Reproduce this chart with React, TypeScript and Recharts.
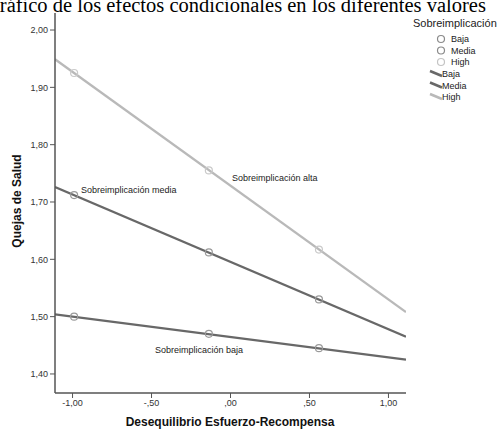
import { ComposedChart, Line, Scatter, XAxis, YAxis } from "recharts";

const groups = ["Baja", "Media", "High"];
const xPoints = [-0.99, -0.137, 0.56];
const bajaPoints = [1.5, 1.47, 1.445];
const mediaPoints = [1.712, 1.612, 1.53];
const highPoints = [1.925, 1.755, 1.617];
const fitRange = [-1.111, 1.111];
const bajaFit = [1.504, 1.425];
const mediaFit = [1.726, 1.465];
const highFit = [1.949, 1.508];
const xTicks = [-1, -0.5, 0, 0.5, 1];
const yTicks = [1.4, 1.5, 1.6, 1.7, 1.8, 1.9, 2.0];

const DARK = "#686868";
const LIGHT = "#b9b9b9";
const lineColors = [DARK, DARK, LIGHT];
const markerColors = ["#9a9a9a", "#9a9a9a", "#cacaca"];

const toXY = (xs: number[], ys: number[]) => xs.map((x, i) => ({ x, y: ys[i] }));

const pointSets = [bajaPoints, mediaPoints, highPoints].map((ys) => toXY(xPoints, ys));
const fitSets = [bajaFit, mediaFit, highFit].map((ys) => toXY(fitRange, ys));

const fmtX = (v: number) => {
  const s = Math.abs(v).toFixed(2).replace(".", ",").replace(/^0/, "");
  return v < 0 ? "-" + s : s;
};
const fmtY = (v: number) => v.toFixed(2).replace(".", ",");

const SANS = "Liberation Sans, Arial, sans-serif";
const tickStyle = { fontSize: 9, fill: "#333", fontFamily: SANS };

export default function App() {
  return (
    <div style={{ position: "fixed", left: 0, top: 0, width: 500, height: 431, overflow: "hidden", background: "#fff" }}>
      <ComposedChart
        width={500}
        height={431}
        margin={{ top: 13, right: 94, left: 0, bottom: 0 }}
      >
        <XAxis
          type="number"
          dataKey="x"
          domain={[-1.111, 1.111]}
          ticks={xTicks}
          tickFormatter={fmtX}
          allowDataOverflow
          height={38}
          tickSize={5}
          tick={tickStyle}
          axisLine={{ stroke: "#555", strokeWidth: 1.5 }}
          tickLine={{ stroke: "#555" }}
        />
        <YAxis
          type="number"
          dataKey="y"
          domain={[1.3668, 2.0297]}
          ticks={yTicks}
          tickFormatter={fmtY}
          allowDataOverflow
          width={55}
          tickSize={5}
          tick={tickStyle}
          axisLine={{ stroke: "#555", strokeWidth: 1.5 }}
          tickLine={{ stroke: "#555" }}
        />
        <YAxis
          yAxisId="frame"
          orientation="right"
          type="number"
          domain={[1.3668, 2.0297]}
          width={0}
          tick={false}
          tickLine={false}
          axisLine={{ stroke: "#555", strokeWidth: 1.5 }}
        />
        {fitSets.map((d, i) => (
          <Line
            key={"fit" + i}
            data={d}
            dataKey="y"
            type="linear"
            stroke={lineColors[i]}
            strokeWidth={2.3}
            dot={false}
            activeDot={false}
            isAnimationActive={false}
          />
        ))}
        {pointSets.map((d, i) => (
          <Scatter
            key={"pts" + i}
            data={d}
            dataKey="y"
            isAnimationActive={false}
            shape={(p: any) => (
              <circle cx={p.cx} cy={p.cy} r={3.5} fill="none" stroke={markerColors[i]} strokeWidth={1.2} />
            )}
          />
        ))}
      </ComposedChart>
      <svg width={500} height={431} style={{ position: "absolute", left: 0, top: 0, pointerEvents: "none" }}>
        <text x={-15} y={12} fontFamily="Liberation Serif, Times New Roman, serif" fontSize={20.5} fill="#000">
          Gráfico de los efectos condicionales en los diferentes valores
        </text>
        <text
          x={0}
          y={0}
          transform="translate(21,201) rotate(-90)"
          textAnchor="middle"
          fontFamily={SANS}
          fontSize={12}
          fontWeight="bold"
          fill="#111"
        >
          Quejas de Salud
        </text>
        <text x={230} y={426} textAnchor="middle" fontFamily={SANS} fontSize={12} fontWeight="bold" fill="#111">
          Desequilibrio Esfuerzo-Recompensa
        </text>
        <g fontFamily={SANS} fontSize={9} fill="#222">
          <text x={81} y={193}>Sobreimplicación media</text>
          <text x={232} y={181}>Sobreimplicación alta</text>
          <text x={155} y={353}>Sobreimplicación baja</text>
        </g>
        <text x={413} y={27} fontFamily={SANS} fontSize={11} fill="#222">
          Sobreimplicación
        </text>
        <g fontFamily={SANS} fontSize={9} fill="#222">
          {groups.map((g, i) => (
            <g key={"lc" + i}>
              <circle cx={441} cy={39 + i * 11.5} r={3.5} fill="none" stroke={i === 2 ? "#c4c4c4" : "#8a8a8a"} strokeWidth={1.2} />
              <text x={451} y={42 + i * 11.5}>{g}</text>
            </g>
          ))}
          {groups.map((g, i) => (
            <g key={"ll" + i}>
              <line x1={430} y1={71 + i * 11.5} x2={442} y2={76 + i * 11.5} stroke={lineColors[i]} strokeWidth={2.5} />
              <text x={442} y={77 + i * 11.5}>{g}</text>
            </g>
          ))}
        </g>
      </svg>
    </div>
  );
}
